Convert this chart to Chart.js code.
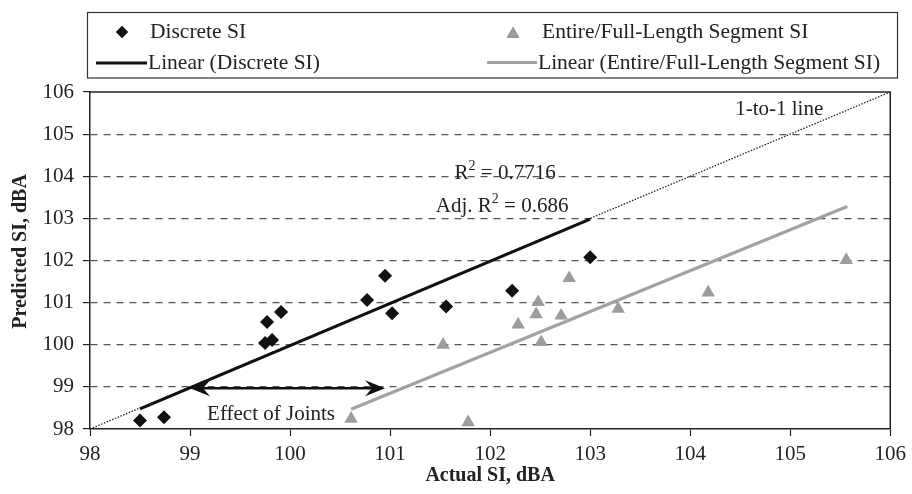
<!DOCTYPE html>
<html>
<head>
<meta charset="utf-8">
<script src="https://cdn.jsdelivr.net/npm/chart.js@4.4.1/dist/chart.umd.min.js"></script>
<style>
  html, body { margin: 0; padding: 0; background: #ffffff; }
  #wrap { width: 912px; height: 494px; position: relative; }
</style>
</head>
<body>
<div id="wrap"><canvas id="chart" width="912" height="494"></canvas></div>
<script>
// Measured vs. predicted sound intensity (SI), dBA
const discreteX = [98.50, 98.74, 99.75, 99.77, 99.82, 99.91, 100.77, 100.95, 101.02, 101.56, 102.22, 103.00];
const discreteY = [98.20, 98.28, 100.04, 100.54, 100.11, 100.78, 101.06, 101.64, 100.75, 100.91, 101.28, 102.08];

const segmentX = [100.61, 101.53, 101.78, 102.28, 102.46, 102.48, 102.51, 102.71, 102.79, 103.28, 104.18, 105.56];
const segmentY = [98.24, 100.00, 98.16, 100.48, 100.72, 101.01, 100.06, 100.69, 101.58, 100.85, 101.24, 102.01];

// Linear trend lines (end points)
const discreteFitX = [98.50, 103.00];
const discreteFitY = [98.48, 102.98];
const segmentFitX = [100.61, 105.57];
const segmentFitY = [98.47, 103.28];

// 1-to-1 reference line
const oneToOneX = [98, 106];
const oneToOneY = [98, 106];

// Axis ticks
const axisTicks = [98, 99, 100, 101, 102, 103, 104, 105, 106];

// "Effect of Joints" arrow span
const jointsArrowX = [99.00, 100.95];
const jointsArrowY = 98.97;

const rSquared = '0.7716';
const adjRSquared = '0.686';

const FONT = '"Liberation Serif", "Times New Roman", serif';
const toPoints = (xs, ys) => xs.map((x, i) => ({ x: x, y: ys[i] }));

const BLACK = '#111111';
const GREY = '#9c9c9c';

// Draws a string where flagged segments are written as superscripts
function drawRich(ctx, parts, cx, baseY, size) {
  const supSize = Math.round(size * 0.68);
  let total = 0;
  parts.forEach(p => {
    ctx.font = (p.sup ? supSize : size) + 'px ' + FONT;
    p.w = ctx.measureText(p.t).width;
    total += p.w;
  });
  let x = cx - total / 2;
  ctx.textAlign = 'left';
  ctx.textBaseline = 'alphabetic';
  parts.forEach(p => {
    ctx.font = (p.sup ? supSize : size) + 'px ' + FONT;
    ctx.fillText(p.t, x, p.sup ? baseY - size * 0.45 : baseY);
    x += p.w;
  });
}

function arrowHead(ctx, tipX, y, dir) {
  // dir = -1 points left, +1 points right
  const len = 20, half = 8, notch = 13;
  ctx.beginPath();
  ctx.moveTo(tipX, y);
  ctx.lineTo(tipX - dir * len, y - half);
  ctx.lineTo(tipX - dir * notch, y);
  ctx.lineTo(tipX - dir * len, y + half);
  ctx.closePath();
  ctx.fill();
}

const decorations = {
  id: 'decorations',
  afterDraw(chart) {
    const ctx = chart.ctx;
    const xs = chart.scales.x, ys = chart.scales.y;
    const area = chart.chartArea;
    ctx.save();

    // plot frame: top and right edges
    ctx.strokeStyle = '#222';
    ctx.lineWidth = 1.5;
    ctx.beginPath();
    ctx.moveTo(area.left, area.top);
    ctx.lineTo(area.right, area.top);
    ctx.lineTo(area.right, area.bottom);
    ctx.stroke();

    // double-headed arrow
    const ax1 = xs.getPixelForValue(jointsArrowX[0]);
    const ax2 = xs.getPixelForValue(jointsArrowX[1]);
    const ay = ys.getPixelForValue(jointsArrowY);
    ctx.strokeStyle = BLACK;
    ctx.fillStyle = BLACK;
    ctx.lineWidth = 2.5;
    ctx.beginPath();
    ctx.moveTo(ax1 + 10, ay);
    ctx.lineTo(ax2 - 10, ay);
    ctx.stroke();
    arrowHead(ctx, ax1, ay, -1);
    arrowHead(ctx, ax2, ay, 1);

    // annotations
    ctx.fillStyle = '#222';
    ctx.font = '21px ' + FONT;
    ctx.textAlign = 'center';
    ctx.textBaseline = 'alphabetic';
    ctx.fillText('Effect of Joints', xs.getPixelForValue(99.81), ys.getPixelForValue(98.22));
    ctx.fillText('1-to-1 line', xs.getPixelForValue(104.89), ys.getPixelForValue(105.45));

    drawRich(ctx, [{ t: 'R' }, { t: '2', sup: true }, { t: ' = ' + rSquared }],
      xs.getPixelForValue(102.15), ys.getPixelForValue(103.93), 21);
    drawRich(ctx, [{ t: 'Adj. R' }, { t: '2', sup: true }, { t: ' = ' + adjRSquared }],
      xs.getPixelForValue(102.12), ys.getPixelForValue(103.15), 21);

    // y axis title
    ctx.save();
    ctx.translate(21, 251.5);
    ctx.rotate(-Math.PI / 2);
    ctx.font = 'bold 20px ' + FONT;
    ctx.fillStyle = '#222';
    ctx.textAlign = 'center';
    ctx.textBaseline = 'middle';
    ctx.fillText('Predicted SI, dBA', 0, 0);
    ctx.restore();

    // legend box
    ctx.strokeStyle = '#333';
    ctx.lineWidth = 1.2;
    ctx.strokeRect(87.5, 12.5, 810, 65.5);

    const ds = chart.data.datasets;
    ctx.font = '21.5px ' + FONT;
    ctx.fillStyle = '#222';
    ctx.textAlign = 'left';
    ctx.textBaseline = 'alphabetic';

    Chart.helpers.drawPoint(ctx, { pointStyle: 'rectRot', radius: 6, rotation: 0, borderWidth: 0 }, 122, 32);
    ctx.fillStyle = ds[0].backgroundColor; ctx.fill();
    ctx.fillStyle = '#222';
    ctx.fillText(ds[0].label, 150, 37.5);

    ctx.beginPath();
    Chart.helpers.drawPoint(ctx, { pointStyle: 'triangle', radius: 7, rotation: 0, borderWidth: 0 }, 513, 34);
    ctx.fillStyle = ds[1].backgroundColor; ctx.fill();
    ctx.fillStyle = '#222';
    ctx.fillText(ds[1].label, 542, 37.5);

    ctx.lineWidth = 3;
    ctx.strokeStyle = ds[2].borderColor;
    ctx.beginPath(); ctx.moveTo(96, 63); ctx.lineTo(147, 63); ctx.stroke();
    ctx.fillText(ds[2].label, 148, 69);

    ctx.strokeStyle = ds[3].borderColor;
    ctx.beginPath(); ctx.moveTo(487, 62.5); ctx.lineTo(537, 62.5); ctx.stroke();
    ctx.fillText(ds[3].label, 538, 69);

    ctx.restore();
  }
};

new Chart(document.getElementById('chart'), {
  type: 'scatter',
  data: {
    datasets: [
      {
        label: 'Discrete SI',
        data: toPoints(discreteX, discreteY),
        pointStyle: 'rectRot',
        pointRadius: 7,
        backgroundColor: BLACK,
        borderColor: BLACK,
        borderWidth: 0,
        showLine: false
      },
      {
        label: 'Entire/Full-Length Segment SI',
        data: toPoints(segmentX, segmentY),
        pointStyle: 'triangle',
        pointRadius: 7.8,
        backgroundColor: GREY,
        borderColor: GREY,
        borderWidth: 0,
        showLine: false
      },
      {
        label: 'Linear (Discrete SI)',
        data: toPoints(discreteFitX, discreteFitY),
        showLine: true,
        borderColor: BLACK,
        borderWidth: 3,
        pointRadius: 0
      },
      {
        label: 'Linear (Entire/Full-Length Segment SI)',
        data: toPoints(segmentFitX, segmentFitY),
        showLine: true,
        borderColor: '#a2a2a2',
        borderWidth: 3.2,
        pointRadius: 0
      },
      {
        label: '1-to-1 line',
        data: toPoints(oneToOneX, oneToOneY),
        showLine: true,
        borderColor: '#222',
        borderWidth: 1.3,
        borderDash: [1.5, 1.5],
        pointRadius: 0
      }
    ]
  },
  options: {
    responsive: false,
    animation: false,
    events: [],
    layout: { padding: { top: 92, right: 19, left: 0, bottom: 0 } },
    plugins: {
      legend: { display: false },
      tooltip: { enabled: false },
      title: { display: false }
    },
    scales: {
      x: {
        type: 'linear',
        min: axisTicks[0],
        max: axisTicks[axisTicks.length - 1],
        afterBuildTicks: s => { s.ticks = axisTicks.map(v => ({ value: v })); },
        ticks: {
          color: '#222',
          padding: 6,
          maxRotation: 0,
          font: { family: FONT, size: 21 }
        },
        grid: {
          drawOnChartArea: false,
          drawTicks: true,
          tickLength: 7,
          tickColor: '#222',
          tickWidth: 1.2
        },
        border: { color: '#222', width: 1.5 },
        title: {
          display: true,
          text: 'Actual SI, dBA',
          color: '#222',
          font: { family: FONT, size: 20, weight: 'bold' },
          padding: { top: 0, bottom: 6 }
        },
        afterFit: s => { s.height = 65; }
      },
      y: {
        type: 'linear',
        min: axisTicks[0],
        max: axisTicks[axisTicks.length - 1],
        afterBuildTicks: s => { s.ticks = axisTicks.map(v => ({ value: v })); },
        ticks: {
          color: '#222',
          padding: 9,
          font: { family: FONT, size: 21 }
        },
        grid: {
          drawOnChartArea: true,
          color: c => (c.tick && c.tick.value > 98 && c.tick.value < 106) ? '#555' : 'rgba(0,0,0,0)',
          lineWidth: 1.2,
          tickLength: 7,
          tickColor: '#222',
          tickWidth: 1.2
        },
        border: { color: '#222', width: 1.5, dash: [7, 6] },
        afterFit: s => { s.width = 90; }
      }
    }
  },
  plugins: [decorations]
});
</script>
</body>
</html>
